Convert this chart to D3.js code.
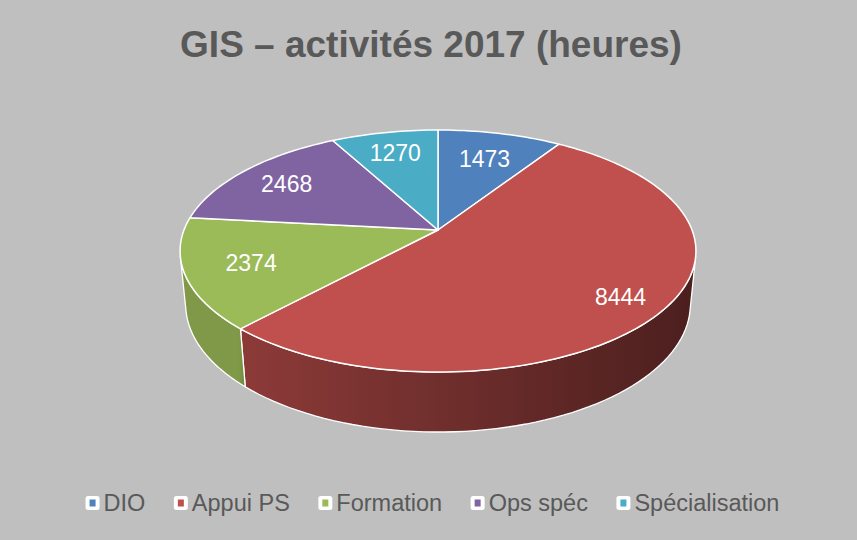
<!DOCTYPE html>
<html lang="fr">
<head>
<meta charset="UTF-8">
<title>GIS – activités 2017</title>
<script src="https://cdn.jsdelivr.net/npm/d3@7"></script>
<style>
  html, body { margin: 0; padding: 0; background: #bfbfbf; }
  svg { display: block; font-family: "Liberation Sans", Arial, sans-serif; }
</style>
</head>
<body>
<div id="chart"></div>
<script>
// data
const categories = ["DIO", "Appui PS", "Formation", "Ops spéc", "Spécialisation"];
const hours = [1473, 8444, 2374, 2468, 1270];
const colors = ["#4f81bd", "#c0504d", "#9bbb59", "#8064a2", "#4bacc6"];
const title = "GIS – activités 2017 (heures)";

// layout
const width = 857, height = 540;
const cx = 438, cy = 230;        // projected pie centre
const focal = 1298;              // perspective focal length (camera distance = 1)
const R = 0.1957;                // disc radius in camera units
const sinP = 0.462, cosP = Math.sqrt(1 - sinP * sinP); // tilt
const depthH = 0.0469;           // thickness of the disc
const labelR = [0.72, 0.83, 0.75, 0.77, 0.77];

const svg = d3.select("#chart").append("svg")
  .attr("width", width)
  .attr("height", height);

svg.append("rect")
  .attr("width", width).attr("height", height)
  .attr("fill", "#bfbfbf");

svg.append("text")
  .attr("x", 431).attr("y", 57)
  .attr("text-anchor", "middle")
  .attr("font-size", 37)
  .attr("font-weight", "bold")
  .attr("fill", "#595959")
  .text(title);

// project a point on the disc (theta clockwise from the far side)
function proj(theta, r, y) {
  const x = r * R * Math.sin(theta), z = r * R * Math.cos(theta);
  const up = y * cosP + z * sinP;
  const d = 1 + z * cosP - y * sinP;
  return [cx + focal * x / d, cy - focal * up / d];
}

const pie = d3.pie().sort(null).value(d => d)(hours);
const defs = svg.append("defs");

// side wall visible where cos(theta) < -R/cosP
const visA = Math.acos(-R / cosP), visB = 2 * Math.PI - visA;

function shade(x) {
  if (x < 240) return 0.82;
  return 0.39 + 0.34 * Math.max(0, (697 - x)) / 457;
}
function darken(c, k) {
  const col = d3.rgb(c);
  return d3.rgb(col.r * k, col.g * k, col.b * k).formatHex();
}

const walls = svg.append("g");
pie.forEach((p, i) => {
  const a0 = Math.max(p.startAngle, visA), a1 = Math.min(p.endAngle, visB);
  if (a1 <= a0) return;
  const n = 60, top = [], bot = [];
  for (let k = 0; k <= n; k++) {
    const t = a0 + (a1 - a0) * k / n;
    top.push(proj(t, 1, 0));
    bot.push(proj(t, 1, -depthH));
  }
  const pts = top.concat(bot.reverse());
  const xs = pts.map(q => q[0]);
  const x0 = d3.min(xs), x1 = d3.max(xs);
  const g = defs.append("linearGradient")
    .attr("id", "wall" + i)
    .attr("gradientUnits", "userSpaceOnUse")
    .attr("x1", x0).attr("x2", x1).attr("y1", 0).attr("y2", 0);
  d3.range(0, 1.0001, 0.1).forEach(s => {
    g.append("stop")
      .attr("offset", s)
      .attr("stop-color", darken(colors[i], shade(x0 + (x1 - x0) * s)));
  });
  walls.append("path")
    .attr("d", d3.line()(pts) + "Z")
    .attr("fill", "url(#wall" + i + ")")
    .attr("stroke", "#ffffff")
    .attr("stroke-width", 1.3)
    .attr("stroke-linejoin", "round");
});

const tops = svg.append("g");
pie.forEach((p, i) => {
  const n = Math.max(8, Math.ceil((p.endAngle - p.startAngle) * 40));
  const pts = [proj(0, 0, 0)];
  for (let k = 0; k <= n; k++) {
    pts.push(proj(p.startAngle + (p.endAngle - p.startAngle) * k / n, 1, 0));
  }
  tops.append("path")
    .attr("d", d3.line()(pts) + "Z")
    .attr("fill", colors[i])
    .attr("stroke", "#ffffff")
    .attr("stroke-width", 1.5)
    .attr("stroke-linejoin", "round");
});

// data labels
pie.forEach((p, i) => {
  const pos = proj((p.startAngle + p.endAngle) / 2, labelR[i], 0);
  svg.append("text")
    .attr("x", pos[0]).attr("y", pos[1] + 1)
    .attr("text-anchor", "middle")
    .attr("dominant-baseline", "central")
    .attr("font-size", 23)
    .attr("fill", "#ffffff")
    .text(p.data);
});

// legend
const legend = svg.append("g");
const legFont = 23.5, box = 14, gapText = 4, gapItem = 28.5;
const items = categories.map((c, i) => {
  const g = legend.append("g");
  g.append("rect")
    .attr("x", 0).attr("y", -box / 2)
    .attr("width", box).attr("height", box)
    .attr("rx", 2.5)
    .attr("fill", "#ffffff");
  g.append("rect")
    .attr("x", 4).attr("y", -3.5)
    .attr("width", 6).attr("height", 7)
    .attr("fill", colors[i]);
  const t = g.append("text")
    .attr("x", box + gapText).attr("y", 0)
    .attr("dominant-baseline", "central")
    .attr("font-size", legFont)
    .attr("fill", "#595959")
    .text(c);
  return { g, w: box + gapText + t.node().getComputedTextLength() };
});
const total = d3.sum(items, d => d.w) + gapItem * (items.length - 1);
let lx = 432.5 - total / 2;
items.forEach(it => {
  it.g.attr("transform", `translate(${lx},503)`);
  lx += it.w + gapItem;
});
</script>
</body>
</html>
